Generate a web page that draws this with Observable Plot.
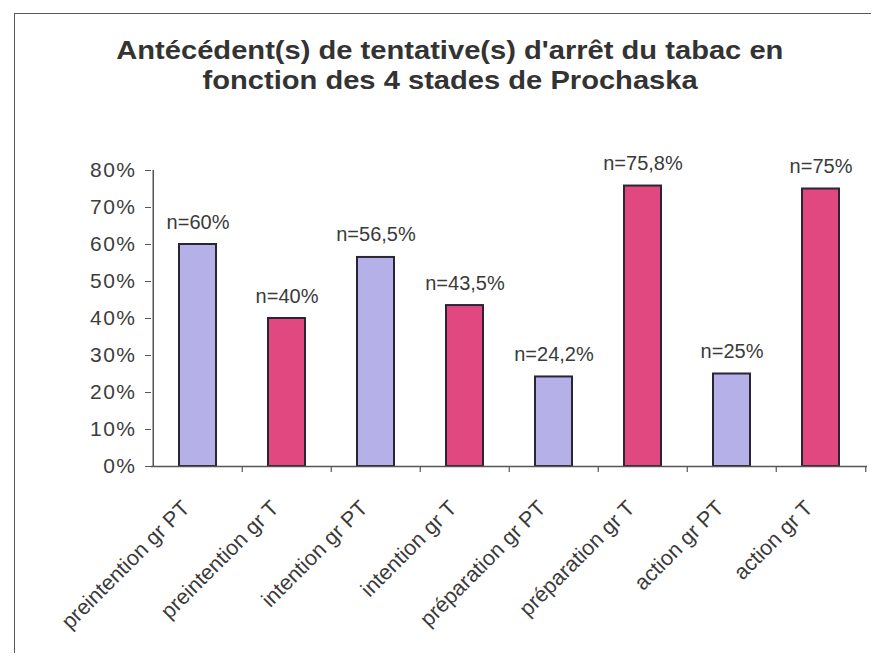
<!DOCTYPE html>
<html>
<head>
<meta charset="utf-8">
<script src="https://cdn.jsdelivr.net/npm/d3@7"></script>
<script src="https://cdn.jsdelivr.net/npm/@observablehq/plot@0.6"></script>
<style>
  html, body { margin: 0; padding: 0; background: #fff; }
  #wrap { position: relative; width: 879px; height: 668px; overflow: hidden; font-family: "Liberation Sans", Arial, sans-serif; }
  .frameTop { position: absolute; left: 14px; top: 13px; width: 857px; height: 0; border-top: 1.5px solid #5a5a5a; }
  .frameLeft { position: absolute; left: 14px; top: 13px; width: 0; height: 640px; border-left: 1.5px solid #5a5a5a; }
  #title { height: 110px; box-sizing: border-box; padding-top: 35px; padding-left: 21px; text-align: center; color: #333; font-weight: bold; font-size: 26px; line-height: 30px; }
  #title span { display: inline-block; transform: scaleX(1.12); transform-origin: center; white-space: nowrap; }
  #chart svg { display: block; }
  #chart g[aria-label="y-axis tick label"] text { letter-spacing: 1.5px; }
  #chart g[aria-label="value labels"] text { letter-spacing: 0.8px; }
  #chart g[aria-label="category labels"] text { letter-spacing: 2.5px; }
</style>
</head>
<body>
<div id="wrap">
  <div class="frameTop"></div>
  <div class="frameLeft"></div>
  <div id="title"></div>
  <div id="chart"></div>
</div>
<script>
const titleLines = ["Antécédent(s) de tentative(s) d'arrêt du tabac en", "fonction des 4 stades de Prochaska"];
const categories = ["preintention gr PT", "preintention gr T", "intention gr PT", "intention gr T", "préparation gr PT", "préparation gr T", "action gr PT", "action gr T"];
const groups = ["PT", "T", "PT", "T", "PT", "T", "PT", "T"];
const values = [60, 40, 56.5, 43.5, 24.2, 75.8, 25, 75];
const valueLabels = ["n=60%", "n=40%", "n=56,5%", "n=43,5%", "n=24,2%", "n=75,8%", "n=25%", "n=75%"];
const yTicks = [0, 10, 20, 30, 40, 50, 60, 70, 80];
const groupDomain = ["PT", "T"];
const groupColors = ["#b5b0e8", "#e0487f"];

const titleEl = document.getElementById("title");
titleLines.forEach(t => {
  const d = document.createElement("div");
  const s = document.createElement("span");
  s.textContent = t;
  d.appendChild(s);
  titleEl.appendChild(d);
});

const data = categories.map((c, i) => ({cat: c, group: groups[i], value: values[i], label: valueLabels[i]}));

const W = 879, H = 558, mL = 151, mR = 12, mT = 60, mB = 202;
const bw = (W - mL - mR) / categories.length;
const axisColor = "#555";

const chart = Plot.plot({
  width: W,
  height: H,
  marginLeft: mL,
  marginRight: mR,
  marginTop: mT,
  marginBottom: mB,
  x: {domain: categories, padding: 0, axis: null},
  y: {domain: [0, 80], axis: null},
  color: {domain: groupDomain, range: groupColors},
  style: {fontFamily: "'Liberation Sans', Arial, sans-serif", background: "transparent", color: "#3a3a3a"},
  marks: [
    Plot.barY(data, {x: "cat", y: "value", fill: "group", stroke: "#2a2535", strokeWidth: 2, insetLeft: 26, insetRight: 26}),
    Plot.ruleY([0], {stroke: axisColor, strokeWidth: 1.5}),
    Plot.ruleX([categories[0]], {dx: -bw / 2, stroke: axisColor, strokeWidth: 1.5}),
    Plot.ruleX(categories.slice(1), {x: d => d, dx: -bw / 2, y1: 0, y2: 0, insetBottom: -6, stroke: axisColor, strokeWidth: 1.2}),
    Plot.ruleX([categories[categories.length - 1]], {x: d => d, dx: bw / 2, y1: 0, y2: 0, insetBottom: -6, stroke: axisColor, strokeWidth: 1.2}),
    Plot.axisY({ticks: yTicks, tickFormat: d => d + "%", label: null, tickSize: 6, tickPadding: 9, fontSize: 21, stroke: axisColor, fill: "#3d3d3d"}),
    Plot.text(data, {x: "cat", y: "value", text: "label", lineAnchor: "bottom", dy: -16, fontSize: 20, fill: "#3a3a3a", ariaLabel: "value labels"}),
    Plot.text(categories, {x: d => d, frameAnchor: "bottom", text: d => d, rotate: -45, textAnchor: "end", lineAnchor: "bottom", dx: -7, dy: 43, fontSize: 21.5, fill: "#3a3a3a", ariaLabel: "category labels"})
  ]
});
document.getElementById("chart").appendChild(chart);
</script>
</body>
</html>
